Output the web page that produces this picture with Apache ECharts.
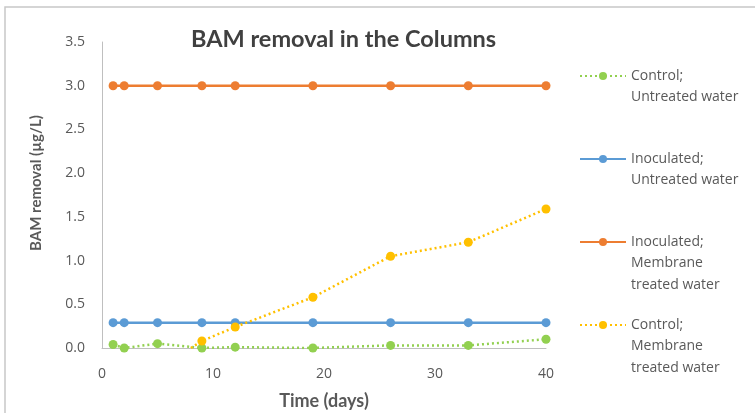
<!DOCTYPE html>
<html>
<head>
<meta charset="utf-8">
<script src="https://cdn.jsdelivr.net/npm/echarts@6/dist/echarts.min.js"></script>
<style>
  html, body { margin: 0; padding: 0; background: #fff; }
  #chart { width: 755px; height: 413px; }
</style>
</head>
<body>
<div id="chart"></div>
<script>
// days sampled
const days = [1, 2, 5, 9, 12, 19, 26, 33, 40]
const controlUntreated = [0.04, 0.0, 0.05, 0.0, 0.01, 0.0, 0.03, 0.03, 0.1]
const inocUntreated = [0.29, 0.29, 0.29, 0.29, 0.29, 0.29, 0.29, 0.29, 0.29]
const inocMembrane = [3.0, 3.0, 3.0, 3.0, 3.0, 3.0, 3.0, 3.0, 3.0]
// control membrane line starts at ~day 8 (no marker there)
const controlMembraneDays = [8, 9, 12, 19, 26, 33, 40]
const controlMembrane = [0.0, 0.08, 0.24, 0.58, 1.05, 1.21, 1.59]

const seriesNames = [
  'Control;\nUntreated water',
  'Inoculated;\nUntreated water',
  'Inoculated;\nMembrane\ntreated water',
  'Control;\nMembrane\ntreated water',
]
const yTicks = [0, 0.5, 1, 1.5, 2, 2.5, 3, 3.5]

const pairs = (xs, ys) => xs.map((x, i) => [x, ys[i]])
const textColor = '#595959'
const font = 'Lato, "Open Sans", sans-serif'
const labelFont = '"Open Sans", sans-serif'

const chart = echarts.init(document.getElementById('chart'), null, { renderer: 'canvas' })

// one legend per item so the icon lines up with the first text line
const lineH = 21.5
const legendTops = [76, 159, 242, 325]
const legends = seriesNames.map((name, i) => {
  const lines = name.split('\n').length
  return {
    data: [name],
    left: 579,
    top: legendTops[i] - lineH * (lines - 1) - lineH / 2,
    orient: 'vertical',
    padding: 0,
    itemWidth: 46,
    itemHeight: 10,
    selectedMode: false,
    formatter: (n) => '\n'.repeat(lines - 1) + n,
    textStyle: { color: textColor, fontSize: 14, fontFamily: labelFont, lineHeight: lineH },
  }
})

const lineSeries = (name, data, color, dotted) => ({
  name,
  type: 'line',
  data,
  symbol: 'circle',
  symbolSize: 9,
  color,
  lineStyle: { color, width: 2.5, type: dotted ? [2, 3] : 'solid', cap: 'butt' },
  itemStyle: { color },
  emphasis: { disabled: true },
  z: 2,
})

const cm = pairs(controlMembraneDays, controlMembrane)
cm[0] = { value: cm[0], symbol: 'none' }

chart.setOption({
  animation: false,
  title: {
    text: 'BAM removal in the Columns',
    left: 191,
    top: 27,
    padding: 0,
    textStyle: { color: '#404040', fontSize: 23.5, fontWeight: 'bold', fontFamily: font },
  },
  legend: legends,
  grid: { left: 102, right: 209, top: 42, bottom: 65, outerBoundsMode: 'none', containLabel: false },
  xAxis: {
    type: 'value',
    min: 0,
    max: 40,
    interval: 10,
    name: 'Time (days)',
    nameLocation: 'middle',
    nameGap: 44,
    nameTextStyle: { color: textColor, fontSize: 18, fontWeight: 'bold', fontFamily: font },
    axisLine: { show: true, lineStyle: { color: '#bfbfbf', width: 1 } },
    axisTick: { show: false },
    splitLine: { show: false },
    axisLabel: { color: textColor, fontSize: 14, fontFamily: labelFont, margin: 19 },
  },
  yAxis: {
    type: 'value',
    min: yTicks[0],
    max: yTicks[yTicks.length - 1],
    interval: 0.5,
    name: 'BAM removal (µg/L)',
    nameLocation: 'middle',
    nameGap: 58,
    nameRotate: 90,
    nameTextStyle: { color: textColor, fontSize: 15, fontWeight: 'bold', fontFamily: font, padding: [0, 0, 0, 24] },
    axisLine: { show: true, lineStyle: { color: '#bfbfbf', width: 1 } },
    axisTick: { show: false },
    splitLine: { show: false },
    axisLabel: { color: textColor, fontSize: 14, fontFamily: labelFont, margin: 17, formatter: (v) => v.toFixed(1) },
  },
  graphic: [{
    type: 'rect',
    shape: { x: 5, y: 7, width: 800, height: 500 },
    style: { fill: 'none', stroke: '#c8c8c8', lineWidth: 1.5 },
    silent: true,
  }],
  series: [
    lineSeries(seriesNames[0], pairs(days, controlUntreated), '#92D050', true),
    lineSeries(seriesNames[1], pairs(days, inocUntreated), '#5B9BD5', false),
    lineSeries(seriesNames[2], pairs(days, inocMembrane), '#ED7D31', false),
    lineSeries(seriesNames[3], cm, '#FFC000', true),
  ],
})
</script>
</body>
</html>
